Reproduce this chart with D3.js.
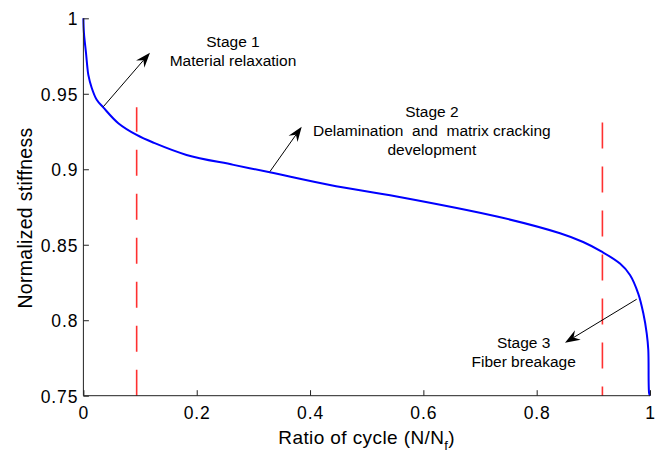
<!DOCTYPE html>
<html><head><meta charset="utf-8">
<script src="https://cdn.jsdelivr.net/npm/d3@7"></script>
<style>
body{margin:0;background:#fff;}
svg{display:block;}
text{font-family:"Liberation Sans", Arial, Helvetica, sans-serif;fill:#000;}
</style></head>
<body>
<svg id="chart" width="662" height="453"></svg>
<script>
// ---- data ----
const cycleRatio = [0, 0.001, 0.0046, 0.0069, 0.0087, 0.0146, 0.0235, 0.035, 0.0616, 0.094, 0.123, 0.182, 0.265, 0.329, 0.435, 0.553, 0.73, 0.8412, 0.882, 0.9148, 0.947, 0.9647, 0.9794, 0.9882, 0.9942, 0.997, 0.9985, 1.0];
const stiffness  = [1.0, 0.99, 0.977, 0.968, 0.9625, 0.954, 0.946, 0.941, 0.9305, 0.9227, 0.9177, 0.9095, 0.9029, 0.898, 0.8896, 0.882, 0.8687, 0.8576, 0.8518, 0.8454, 0.8375, 0.83, 0.8175, 0.8046, 0.7913, 0.7803, 0.7516, 0.75];
const xTicks = [0, 0.2, 0.4, 0.6, 0.8, 1];
const xTickLabels = ["0", "0.2", "0.4", "0.6", "0.8", "1"];
const yTicks = [0.75, 0.8, 0.85, 0.9, 0.95, 1];
const yTickLabels = ["0.75", "0.8", "0.85", "0.9", "0.95", "1"];
const boundaryX = [0.094, 0.916];
const boundaryFrom = [0.75, 0.931];
const boundaryTo = [0.941, 0.75];
// annotations: arrow tail/head in data coords
const arrowTailX = [0.0351, 0.3293, 0.9765];
const arrowTailY = [0.9414, 0.8985, 0.8139];
const arrowHeadX = [0.1175, 0.3853, 0.85];
const arrowHeadY = [0.9772, 0.9282, 0.7851];
const noteLines = [
  ["Stage 1", "Material relaxation"],
  ["Stage 2", "Delamination\u00a0\u00a0and\u00a0\u00a0matrix cracking", "development"],
  ["Stage 3", "Fiber breakage"]
];
const noteX = [0.264, 0.615, 0.777];
const noteY = [0.9812, 0.9344, 0.7814];

// ---- layout ----
const svg = d3.select("#chart");
const mLeft = 83.4, mRight = 650, mTop = 18.3, mBottom = 395.7;
const x = d3.scaleLinear().domain([0, 1]).range([mLeft, mRight]);
const y = d3.scaleLinear().domain([0.75, 1]).range([mBottom, mTop]);

// boundaries (red dashed)
boundaryX.forEach((bx, i) => {
  svg.append("line")
    .attr("x1", x(bx)).attr("x2", x(bx))
    .attr("y1", y(boundaryFrom[i])).attr("y2", y(boundaryTo[i]))
    .attr("stroke", "#ff3030").attr("stroke-width", 1.6)
    .attr("stroke-dasharray", "26,18");
});

// curve
const line = d3.line().x((d, i) => x(cycleRatio[i])).y(d => y(d)).curve(d3.curveCatmullRom.alpha(0.5));
svg.append("path").datum(stiffness).attr("d", line)
  .attr("fill", "none").attr("stroke", "#0000ff").attr("stroke-width", 2);

// axes
const axisColor = "#222";
const gx = svg.append("g").attr("transform", `translate(0,${mBottom})`)
  .call(d3.axisBottom(x).tickValues(xTicks).tickFormat((d, i) => xTickLabels[i]).tickSize(-5.5).tickPadding(10.5));
const gy = svg.append("g").attr("transform", `translate(${mLeft},0)`)
  .call(d3.axisLeft(y).tickValues(yTicks).tickFormat((d, i) => yTickLabels[i]).tickSize(-5.5).tickPadding(5));
[gx, gy].forEach(g => {
  g.select(".domain").remove();
  g.selectAll(".tick line").attr("stroke", axisColor);
  g.selectAll(".tick text").attr("font-size", 17.5).attr("letter-spacing", "0.9px")
    .attr("font-family", "Liberation Sans, Arial, sans-serif").attr("fill", "#000");
});
svg.append("line").attr("x1", mLeft).attr("x2", mRight).attr("y1", mBottom).attr("y2", mBottom)
  .attr("stroke", axisColor).attr("stroke-width", 1);
svg.append("line").attr("x1", mLeft).attr("x2", mLeft).attr("y1", mTop).attr("y2", mBottom)
  .attr("stroke", axisColor).attr("stroke-width", 1);
gy.selectAll(".tick text").attr("dy", "0.38em");

// axis labels
const xl = svg.append("text").attr("x", (mLeft + mRight) / 2).attr("y", 444)
  .attr("text-anchor", "middle").attr("font-size", 19).attr("letter-spacing", "0.4px");
xl.append("tspan").text("Ratio of cycle (N/N");
xl.append("tspan").text("f").attr("font-size", 13).attr("dy", 6);
xl.append("tspan").text(")").attr("dy", -6);

svg.append("text").attr("transform", `translate(31.5,${(mTop + mBottom) / 2 + 11}) rotate(-90)`)
  .attr("text-anchor", "middle").attr("font-size", 19.5).attr("letter-spacing", "0.3px")
  .text("Normalized stiffness");

// arrows
arrowTailX.forEach((tx, i) => {
  const x1 = x(tx), y1 = y(arrowTailY[i]), x2 = x(arrowHeadX[i]), y2 = y(arrowHeadY[i]);
  const ang = Math.atan2(y2 - y1, x2 - x1);
  const L = 15, W = 5.5, back = 10;
  svg.append("line").attr("x1", x1).attr("y1", y1)
    .attr("x2", x2 - Math.cos(ang) * back).attr("y2", y2 - Math.sin(ang) * back)
    .attr("stroke", "#000").attr("stroke-width", 1);
  const pts = [[0, 0], [-L, -W], [-back, 0], [-L, W]].map(([u, v]) =>
    [x2 + u * Math.cos(ang) - v * Math.sin(ang), y2 + u * Math.sin(ang) + v * Math.cos(ang)]);
  svg.append("path").attr("d", "M" + pts.map(p => p.join(",")).join("L") + "Z").attr("fill", "#000");
});

// notes
noteLines.forEach((lines, i) => {
  lines.forEach((t, j) => {
    svg.append("text").attr("x", x(noteX[i])).attr("y", y(noteY[i]) + j * 19)
      .attr("text-anchor", "middle").attr("font-size", 15.5).attr("fill", "#111").text(t);
  });
});
</script>
</body></html>
